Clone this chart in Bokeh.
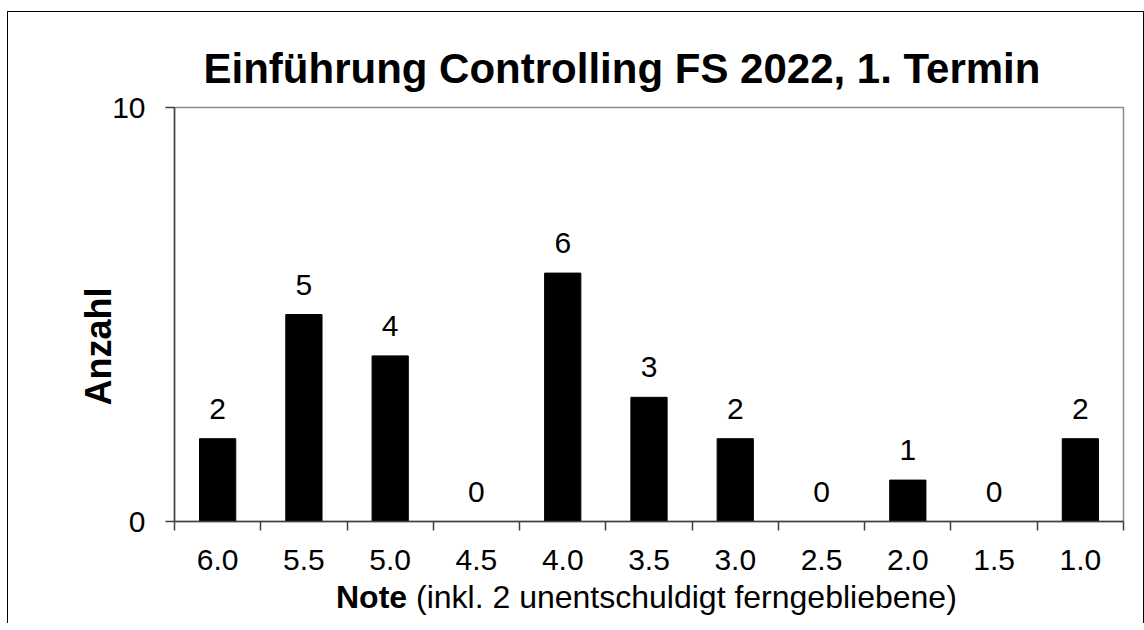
from bokeh.plotting import figure
from bokeh.models import FixedTicker, ColumnDataSource, Title, Div
from bokeh.layouts import column
from bokeh.core.properties import value
from bokeh.embed import file_html
from bokeh.resources import INLINE

# ---- data ----
grades = ["6.0", "5.5", "5.0", "4.5", "4.0", "3.5", "3.0", "2.5", "2.0", "1.5", "1.0"]
counts = [2, 5, 4, 0, 6, 3, 2, 0, 1, 0, 2]
title_text = "Einführung Controlling FS 2022, 1. Termin"
y_label = "Anzahl"
x_label_bold = "Note"
x_label_rest = "(inkl. 2 unentschuldigt ferngebliebene)"
y_ticks = [0, 10]

FONT = "Liberation Sans"

xs = [i + 0.5 for i in range(len(grades))]
src = ColumnDataSource(dict(x=xs, top=counts, label=[str(c) for c in counts]))

p = figure(
    width=1135, height=570,
    x_range=(0, len(grades)), y_range=(0, 10),
    output_backend="svg", toolbar_location=None,
    min_border_left=166, min_border_right=20,
    min_border_top=95, min_border_bottom=61,
    background_fill_color="white", border_fill_color="white",
)

p.title = Title(text=title_text, align="left", offset=29, standoff=32,
                text_font=FONT, text_font_size="42px", text_font_style="bold",
                text_color="black")

p.vbar(x="x", top="top", width=0.42, bottom=0, source=src,
       fill_color="black", line_color="black")

p.text(x="x", y="top", text="label", source=src,
       text_align="center", text_baseline="alphabetic", y_offset=-30,
       text_font=value(FONT), text_font_size="30px", text_color="black")

p.grid.visible = False
p.outline_line_color = "#8c8c8c"
p.outline_line_width = 1.5

# x axis: labels at centres, ticks between categories
xa = p.xaxis[0]
xa.ticker = FixedTicker(ticks=xs, minor_ticks=list(range(len(grades) + 1)))
xa.major_label_overrides = {x: g for x, g in zip(xs, grades)}
xa.major_tick_out = 0
xa.major_tick_in = 0
xa.minor_tick_out = 9
xa.minor_tick_in = 0
xa.minor_tick_line_color = "#404040"
xa.minor_tick_line_width = 1.5
xa.axis_line_color = "#404040"
xa.axis_line_width = 1.5
xa.major_label_text_font = FONT
xa.major_label_text_font_size = "30px"
xa.major_label_text_color = "black"
xa.major_label_standoff = 19

ya = p.yaxis[0]
ya.ticker = FixedTicker(ticks=y_ticks)
ya.major_tick_out = 9
ya.major_tick_in = 0
ya.minor_tick_line_color = None
ya.major_tick_line_color = "#404040"
ya.major_tick_line_width = 1.5
ya.axis_line_color = "#404040"
ya.axis_line_width = 1.5
ya.major_label_text_font = FONT
ya.major_label_text_font_size = "30px"
ya.major_label_text_color = "black"
ya.major_label_standoff = 20

# y axis title
p.add_layout(Title(text=y_label, align="left", offset=116, standoff=-19,
                   text_font=FONT, text_font_size="36px", text_font_style="bold",
                   text_color="black"), "left")

# x axis title (bold + normal part)
span_style = (f"font-family:'{FONT}';font-size:32px;line-height:30px;"
              "color:black;white-space:nowrap")
xlab = Div(
    text=(f"<span style=\"{span_style}\"><b>{x_label_bold}</b> "
          f"{x_label_rest}</span>"),
    width=800, height=36,
    styles={"margin-top": "0px", "margin-left": "328px",
            "font-family": FONT, "font-size": "32px", "line-height": "30px",
            "color": "black", "white-space": "nowrap"},
)

layout = column(
    p, xlab,
    styles={"margin-left": "7px", "margin-top": "11px",
            "border-left": "1px solid black", "border-top": "1px solid black",
            "border-right": "1px solid black"},
)

open("out.html", "w").write(file_html(layout, INLINE))
